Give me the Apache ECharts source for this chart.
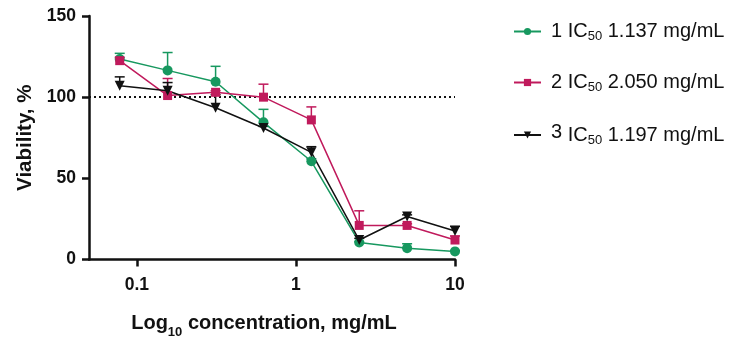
<!DOCTYPE html>
<html>
<head>
<meta charset="utf-8">
<script src="https://cdn.jsdelivr.net/npm/echarts@6/dist/echarts.min.js"></script>
<style>html,body{margin:0;padding:0;background:#fff;}#c{width:731px;height:337px;}</style>
</head>
<body>
<div id="c"></div>
<script>
// concentrations (mg/mL)
var conc = [0.078, 0.156, 0.3125, 0.625, 1.25, 2.5, 5, 10];
// viability means (%)
var s1 = [123.5, 116.5, 109.5, 84.5, 60.5, 10.5, 7, 5];
var s2 = [122.5, 101, 103, 100, 86, 21, 21, 12];
var s3 = [107, 104, 93.5, 81, 66, 12, 26.5, 17.5];
// upper error (SD)
var e1 = [3.5, 11, 9.5, 8, 1.5, 0.5, 2.7, 0.5];
var e2 = [2, 10.5, 1, 8, 8, 9, 1, 2.5];
var e3 = [5.5, 5, 8, 1, 3.5, 1, 1, 3];
var names = ['1', '2', '3'];
var ic50 = ['1.137', '2.050', '1.197'];
var colors = ['#17985f', '#c01a5c', '#111111'];
var symbols = ['circle', 'rect', 'triangle'];
var xTicks = [0.1, 1, 10];

var chart = echarts.init(document.getElementById('c'));
var means = [s1, s2, s3];
var errs = [e1, e2, e3];
var FONT = 'Liberation Sans, Arial, sans-serif';
var series = [];
means.forEach(function (m, i) {
  series.push({
    type: 'custom',
    name: names[i] + '_err',
    z: 1,
    silent: true,
    data: conc.map(function (c, k) { return [c, m[k], m[k] + errs[i][k]]; }),
    renderItem: function (params, api) {
      var p0 = api.coord([api.value(0), api.value(1)]);
      var p1 = api.coord([api.value(0), api.value(2)]);
      var hw = 5;
      var st = { stroke: colors[i], lineWidth: 1.5 };
      return {
        type: 'group',
        children: [
          { type: 'line', shape: { x1: p0[0], y1: p0[1], x2: p1[0], y2: p1[1] }, style: st },
          { type: 'line', shape: { x1: p1[0] - hw, y1: p1[1], x2: p1[0] + hw, y2: p1[1] }, style: st }
        ]
      };
    }
  });
});
means.forEach(function (m, i) {
  var s = {
    type: 'line',
    name: names[i],
    z: 3,
    data: conc.map(function (c, k) { return [c, m[k]]; }),
    symbol: symbols[i],
    symbolRotate: i === 2 ? 180 : 0,
    symbolSize: i === 1 ? 9 : 10,
    showAllSymbol: true,
    itemStyle: { color: colors[i], borderWidth: 0 },
    lineStyle: { color: colors[i], width: 1.5 },
    emphasis: { disabled: true },
    animation: false
  };
  if (i === 0) {
    s.markLine = {
      silent: true,
      symbol: 'none',
      label: { show: false },
      lineStyle: { color: '#111', type: [2, 3], width: 2 },
      data: [{ yAxis: 100 }],
      z: 0
    };
  }
  series.push(s);
});

var option = {
  animation: false,
  backgroundColor: '#fff',
  grid: { left: 89, right: 276, top: 16, bottom: 77.5, containLabel: false, outerBoundsMode: 'none' },
  xAxis: {
    type: 'log',
    logBase: 10,
    min: 0.05,
    max: 10,
    splitLine: { show: false },
    minorTick: { show: false },
    axisLine: { lineStyle: { color: '#111', width: 2.5 } },
    axisTick: { length: 7, lineStyle: { color: '#111', width: 2.5 }, customValues: xTicks },
    axisLabel: { customValues: xTicks, margin: 17, color: '#111', fontFamily: FONT, fontWeight: 'bold', fontSize: 17.5,
      formatter: function (v) { return String(+v.toPrecision(3)); } },
    name: '{a|Log}{b|10}{a| concentration, mg/mL}',
    nameLocation: 'middle',
    nameGap: 50,
    nameTextStyle: {
      padding: [0, 16, 0, 0],
      rich: {
        a: { fontFamily: FONT, fontWeight: 'bold', fontSize: 20, color: '#111', verticalAlign: 'bottom', lineHeight: 24 },
        b: { fontFamily: FONT, fontWeight: 'bold', fontSize: 13, color: '#111', verticalAlign: 'bottom', lineHeight: 24, padding: [0, 0, -5, 0] }
      }
    }
  },
  yAxis: {
    type: 'value',
    min: 0,
    max: 150,
    interval: 50,
    splitLine: { show: false },
    axisLine: { show: true, lineStyle: { color: '#111', width: 2.5 } },
    axisTick: { show: true, length: 7, lineStyle: { color: '#111', width: 2.5 } },
    axisLabel: { margin: 13, color: '#111', fontFamily: FONT, fontWeight: 'bold', fontSize: 17.5 },
    name: 'Viability, %',
    nameLocation: 'middle',
    nameGap: 51,
    nameTextStyle: { fontFamily: FONT, fontWeight: 'bold', fontSize: 20.5, color: '#111' }
  },
  legend: {
    orient: 'vertical',
    left: 508,
    top: 15,
    itemWidth: 27,
    itemHeight: 9,
    itemGap: 28,
    data: names,
    selectedMode: false,
    formatter: function (n) {
      var i = names.indexOf(n);
      var lead = i === 2 ? '{r|' + n + '}' : '{n|' + n + '}';
      return lead + '{n| IC}{s|50}{n| ' + ic50[i] + ' mg/mL}';
    },
    textStyle: {
      padding: [0, 0, 0, 5],
      rich: {
        n: { fontFamily: FONT, fontSize: 20, color: '#111', lineHeight: 24, verticalAlign: 'middle' },
        r: { fontFamily: FONT, fontSize: 20, color: '#111', lineHeight: 24, verticalAlign: 'middle', padding: [0, 0, 6, 0] },
        s: { fontFamily: FONT, fontSize: 13, color: '#111', lineHeight: 24, verticalAlign: 'middle', padding: [10, 0, 0, 0] }
      }
    }
  },
  series: series
};
chart.setOption(option);
</script>
</body>
</html>
